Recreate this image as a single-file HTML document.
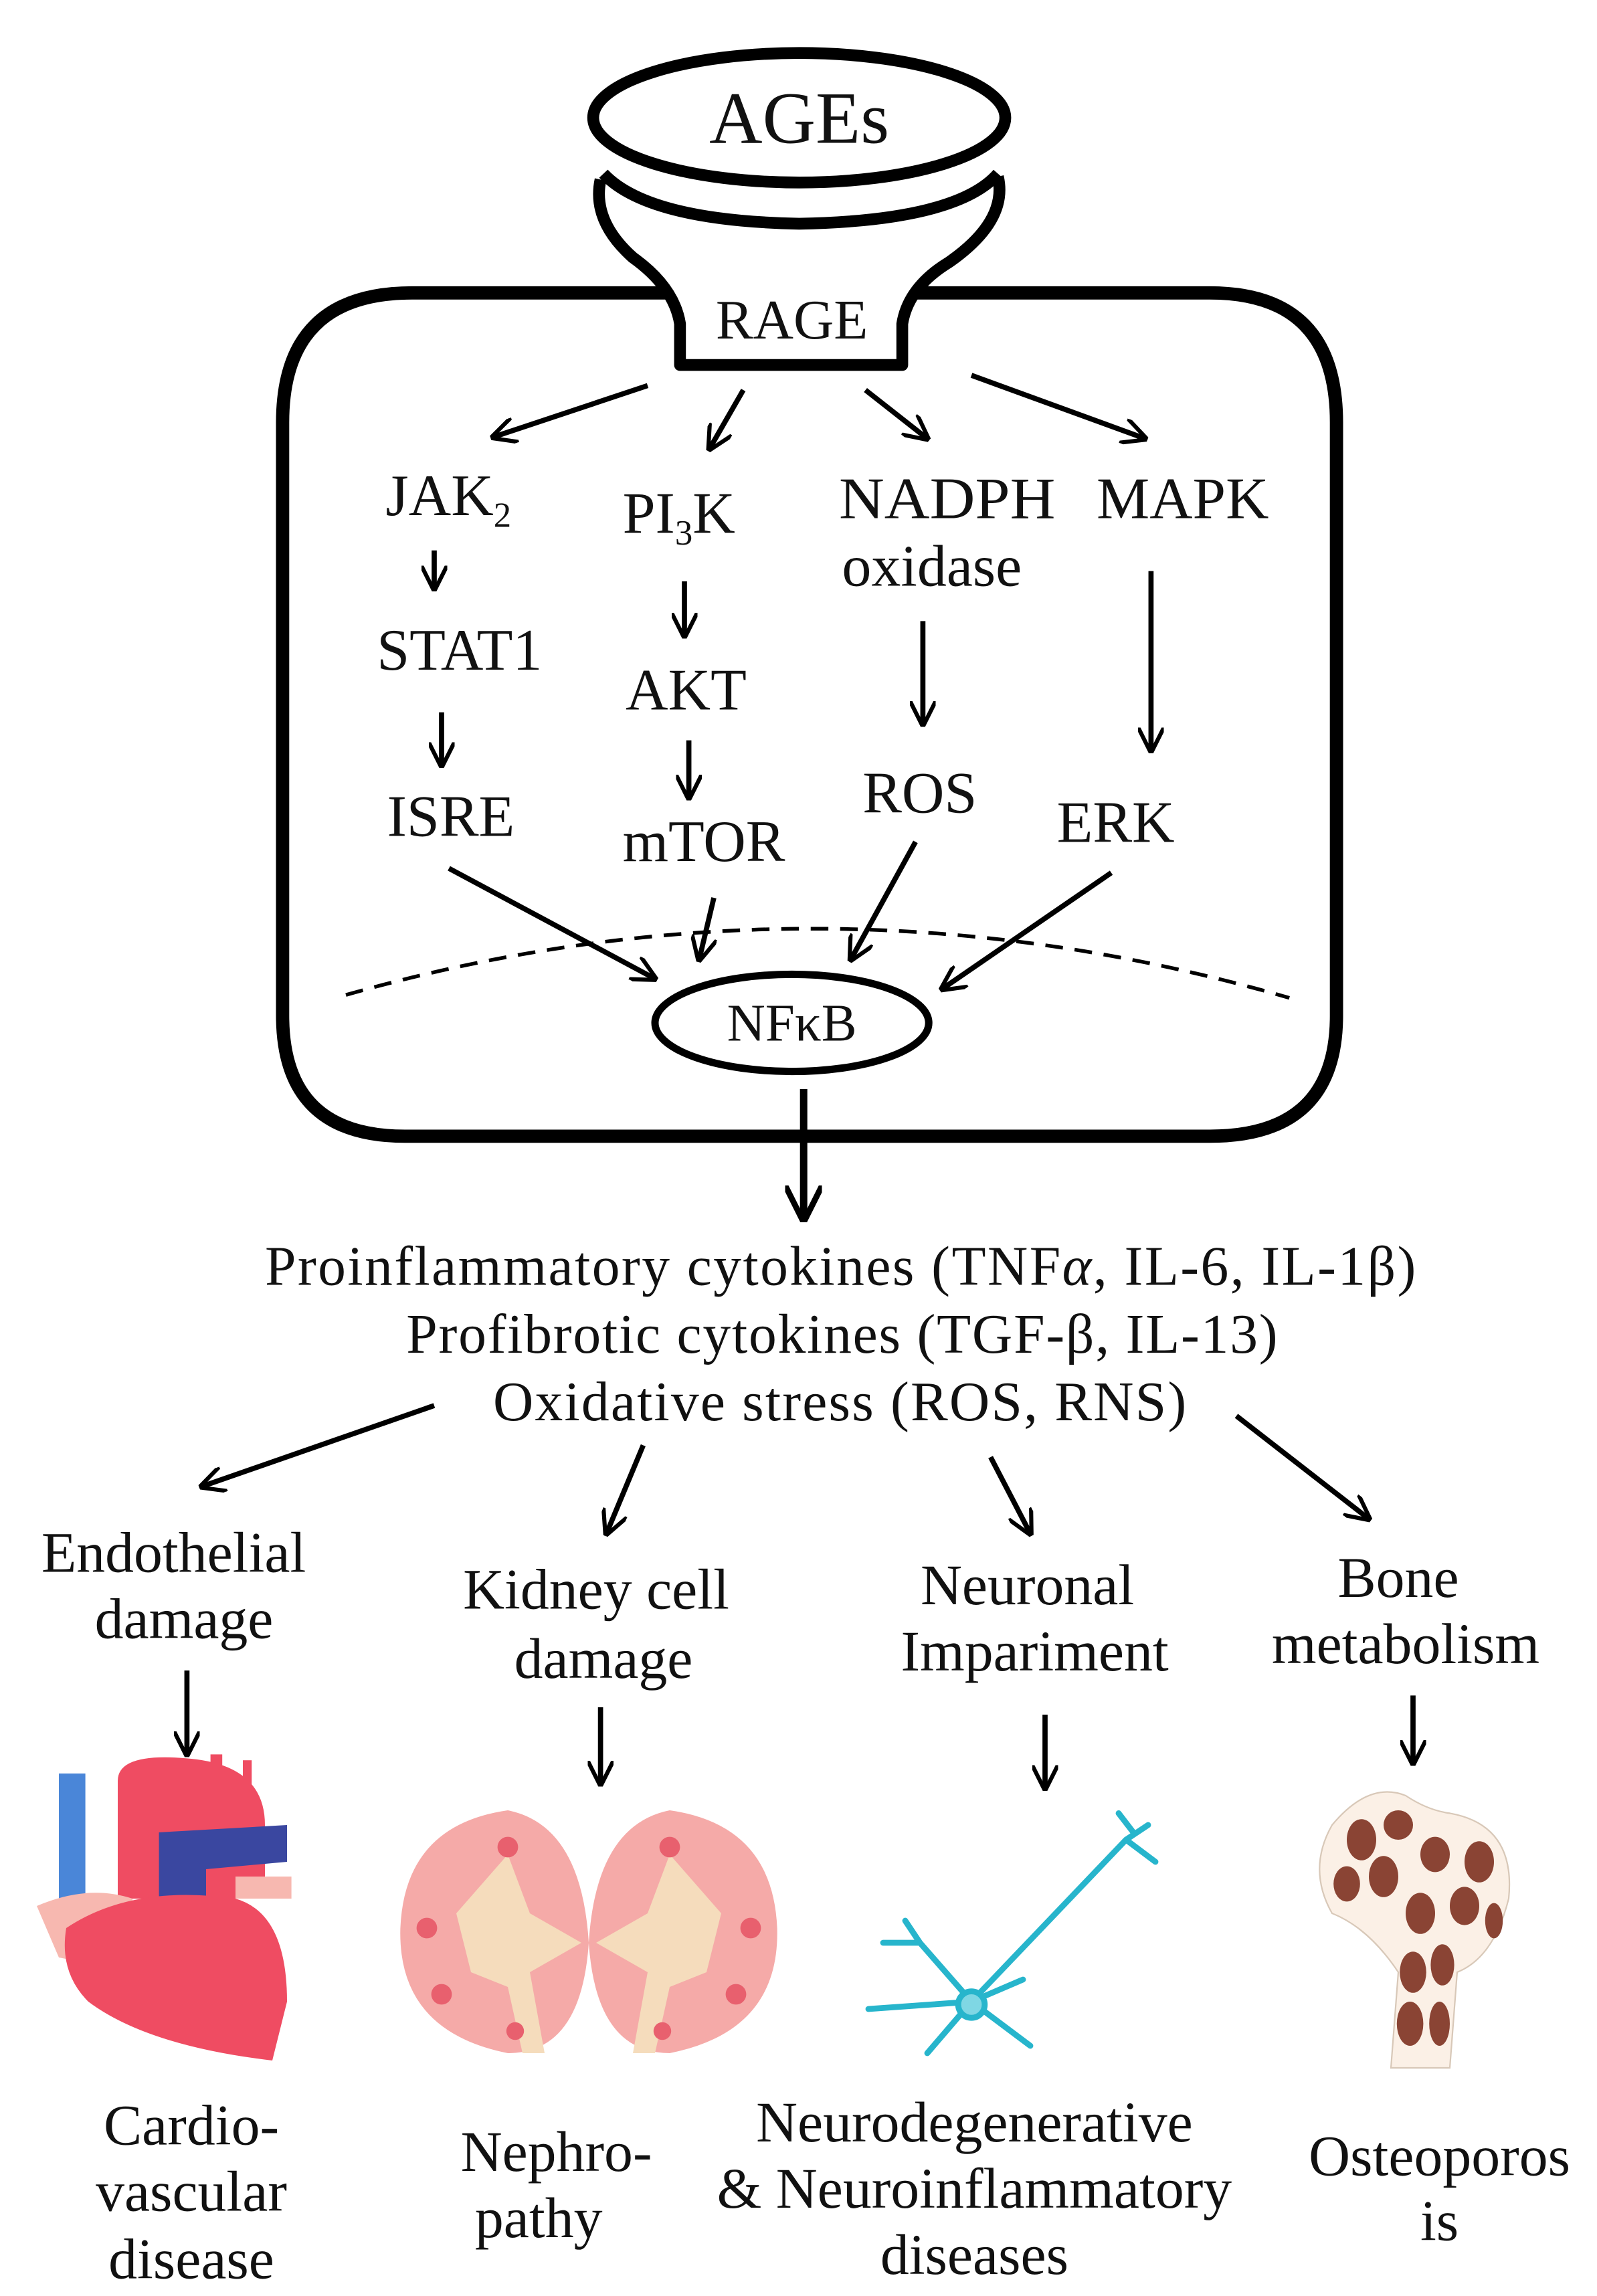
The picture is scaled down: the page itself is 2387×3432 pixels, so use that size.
<!DOCTYPE html>
<html><head><meta charset="utf-8"><style>
html,body{margin:0;padding:0;background:#fff;width:2387px;height:3432px;overflow:hidden}
svg{display:block}
text{font-family:"Liberation Serif",serif;fill:#111}
</style></head><body>
<svg width="2387" height="3432" viewBox="0 0 1085 1560" xmlns="http://www.w3.org/2000/svg">
<defs>
<marker id="ah" viewBox="0 0 10 10" refX="9" refY="5" markerWidth="5" markerHeight="5" orient="auto" markerUnits="strokeWidth"><path d="M0,0 L10,5 L0,10" fill="none" stroke="#000" stroke-width="1.6"/></marker>
</defs>
<path d="M460,199 H280 Q192,199 192,287 V690 Q192,772 275,772 H822 Q908,772 908,690 V287 Q908,199 822,199 H615" fill="none" stroke="#000" stroke-width="9"/>
<path d="M408,122 Q402,150 430,175 Q458,195 462,220 V248 H613 V220 Q617,195 645,178 Q685,150 678,120" fill="#fff" stroke="#000" stroke-width="8" stroke-linejoin="round"/>
<path d="M410,118 Q440,150 543,152 Q650,150 678,118" fill="none" stroke="#000" stroke-width="8"/>
<ellipse cx="543" cy="80" rx="140" ry="44" fill="#fff" stroke="#000" stroke-width="8"/>
<text x="543" y="97" font-size="50" text-anchor="middle">AGEs</text>
<text x="538" y="230" font-size="38" text-anchor="middle">RAGE</text>
<g stroke="#000" stroke-width="3.5" fill="none" marker-end="url(#ah)">
<line x1="440" y1="262" x2="335" y2="297"/>
<line x1="505" y1="265" x2="482" y2="305"/>
<line x1="588" y1="265" x2="630" y2="298"/>
<line x1="660" y1="255" x2="778" y2="298"/>
<line x1="295" y1="374" x2="295" y2="400"/>
<line x1="300" y1="484" x2="300" y2="520"/>
<line x1="465" y1="395" x2="465" y2="432"/>
<line x1="468" y1="503" x2="468" y2="542"/>
<line x1="627" y1="422" x2="627" y2="492"/>
<line x1="782" y1="388" x2="782" y2="510"/>
<line x1="305" y1="590" x2="445" y2="665"/>
<line x1="485" y1="610" x2="475" y2="652"/>
<line x1="622" y1="572" x2="578" y2="652"/>
<line x1="755" y1="593" x2="640" y2="672"/>
<line x1="295" y1="955" x2="137" y2="1010"/>
<line x1="437" y1="982" x2="412" y2="1042"/>
<line x1="673" y1="990" x2="700" y2="1042"/>
<line x1="840" y1="962" x2="930" y2="1032"/>
<line x1="127" y1="1135" x2="127" y2="1192"/>
<line x1="408" y1="1160" x2="408" y2="1212"/>
<line x1="710" y1="1165" x2="710" y2="1215"/>
<line x1="960" y1="1152" x2="960" y2="1198"/>
</g>
<line x1="546" y1="740" x2="546" y2="828" stroke="#000" stroke-width="5" marker-end="url(#ah)"/>
<path d="M235,676 Q555,585 876,678" fill="none" stroke="#000" stroke-width="2.5" stroke-dasharray="12,8"/>
<ellipse cx="538" cy="695" rx="93" ry="33" fill="#fff" stroke="#000" stroke-width="5"/>
<text x="538" y="707" font-size="36" text-anchor="middle">NFκB</text>
<g font-size="40">
<text x="262" y="350">JAK<tspan font-size="24" dy="8">2</tspan></text>
<text x="423" y="362">PI<tspan font-size="24" dy="8">3</tspan><tspan dy="-8">K</tspan></text>
<text x="570" y="352" textLength="147" lengthAdjust="spacingAndGlyphs">NADPH</text>
<text x="572" y="398">oxidase</text>
<text x="745" y="352" textLength="117" lengthAdjust="spacingAndGlyphs">MAPK</text>
<text x="256" y="455">STAT1</text>
<text x="263" y="568">ISRE</text>
<text x="425" y="482">AKT</text>
<text x="423" y="585">mTOR</text>
<text x="586" y="552">ROS</text>
<text x="718" y="572">ERK</text>
</g>
<g font-size="38">
<text x="180" y="873" textLength="782" lengthAdjust="spacing">Proinflammatory cytokines (TNF<tspan font-style="italic">α</tspan>, IL-6, IL-1β)</text>
<text x="276" y="919" textLength="592" lengthAdjust="spacing">Profibrotic cytokines (TGF-β, IL-13)</text>
<text x="335" y="965" textLength="471" lengthAdjust="spacing">Oxidative stress (ROS, RNS)</text>
</g>
<g font-size="39" text-anchor="middle">
<text x="118" y="1068">Endothelial</text><text x="125" y="1113">damage</text>
<text x="405" y="1093">Kidney cell</text><text x="410" y="1140">damage</text>
<text x="698" y="1090">Neuronal</text><text x="703" y="1135">Impariment</text>
<text x="950" y="1085">Bone</text><text x="955" y="1130">metabolism</text>
<text x="130" y="1457">Cardio-</text><text x="130" y="1502">vascular</text><text x="130" y="1548">disease</text>
<text x="378" y="1475">Nephro-</text><text x="366" y="1520">pathy</text>
<text x="662" y="1455">Neurodegenerative</text><text x="662" y="1500">&amp; Neuroinflammatory</text><text x="662" y="1545">diseases</text>
<text x="978" y="1478">Osteoporos</text><text x="978" y="1522">is</text>
</g>
<g>
<rect x="40" y="1205" width="18" height="120" fill="#4a86d8"/>
<path d="M80,1210 Q80,1190 130,1195 Q180,1200 180,1240 V1290 H80Z" fill="#ef4c62"/>
<rect x="143" y="1192" width="8" height="20" fill="#ef4c62"/><rect x="165" y="1196" width="6" height="20" fill="#ef4c62"/>
<path d="M108,1245 L195,1240 V1265 L140,1270 V1290 H108Z" fill="#3a47a0"/>
<path d="M25,1295 Q60,1280 90,1290 L92,1340 L40,1330Z" fill="#f7b8b0"/>
<path d="M160,1275 H198 V1290 H160Z" fill="#f7b8b0"/>
<path d="M45,1310 Q90,1280 160,1290 Q195,1300 195,1360 L185,1400 Q100,1390 60,1360 Q40,1340 45,1310Z" fill="#ef4c62"/>
</g>
<g>
<path d="M345,1230 Q395,1240 400,1320 Q395,1395 345,1395 Q270,1380 272,1310 Q275,1240 345,1230Z" fill="#f5aaa8"/>
<path d="M345,1260 L360,1300 L395,1320 L360,1340 L370,1395 L355,1395 L345,1350 L320,1340 L310,1300Z" fill="#f5dcbc"/>
<path d="M455,1230 Q405,1240 400,1320 Q405,1395 455,1395 Q530,1380 528,1310 Q525,1240 455,1230Z" fill="#f5aaa8"/>
<path d="M455,1260 L440,1300 L405,1320 L440,1340 L430,1395 L445,1395 L455,1350 L480,1340 L490,1300Z" fill="#f5dcbc"/>
<g fill="#e8606e"><circle cx="345" cy="1255" r="7"/><circle cx="455" cy="1255" r="7"/><circle cx="290" cy="1310" r="7"/><circle cx="510" cy="1310" r="7"/><circle cx="300" cy="1355" r="7"/><circle cx="500" cy="1355" r="7"/><circle cx="350" cy="1380" r="6"/><circle cx="450" cy="1380" r="6"/></g>
</g>
<g stroke="#27b5cc" stroke-width="4" fill="none" stroke-linecap="round">
<path d="M660,1360 L765,1250 L780,1240 M765,1250 L785,1265 M770,1245 L760,1232"/>
<path d="M660,1360 L625,1320 L600,1320 M660,1360 L590,1365 M660,1360 L630,1395 M660,1360 L700,1390 M660,1360 L695,1345 M625,1320 L615,1305"/>
<circle cx="660" cy="1362" r="9" fill="#7fd7e4"/>
</g>
<g>
<path d="M905,1240 Q930,1210 955,1220 Q970,1230 985,1232 Q1030,1240 1025,1290 Q1015,1330 990,1340 L985,1405 H945 L950,1340 Q930,1310 905,1300 Q888,1270 905,1240Z" fill="#fbf0e6" stroke="#d8c8b8"/>
<g fill="#8a4434">
<ellipse cx="925" cy="1250" rx="10" ry="14"/><ellipse cx="950" cy="1240" rx="10" ry="10"/><ellipse cx="915" cy="1280" rx="9" ry="12"/><ellipse cx="940" cy="1275" rx="10" ry="14"/><ellipse cx="975" cy="1260" rx="10" ry="12"/><ellipse cx="1005" cy="1265" rx="10" ry="14"/><ellipse cx="995" cy="1295" rx="10" ry="13"/><ellipse cx="965" cy="1300" rx="10" ry="14"/><ellipse cx="1015" cy="1305" rx="6" ry="12"/><ellipse cx="960" cy="1340" rx="9" ry="14"/><ellipse cx="980" cy="1335" rx="8" ry="14"/><ellipse cx="958" cy="1375" rx="9" ry="15"/><ellipse cx="978" cy="1375" rx="7" ry="15"/></g>
</g>
</svg>
</body></html>
